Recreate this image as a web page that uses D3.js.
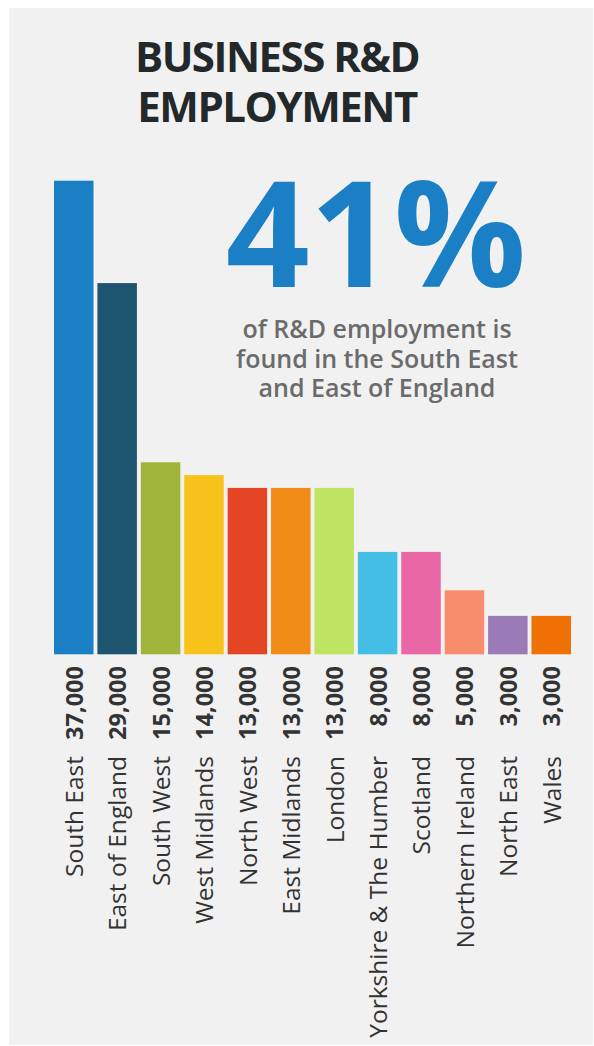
<!DOCTYPE html>
<html>
<head>
<meta charset="utf-8">
<script src="https://cdn.jsdelivr.net/npm/d3@7"></script>
<style>
  html, body { margin: 0; padding: 0; background: #ffffff; }
  svg { display: block; }
</style>
</head>
<body>
<script>
// Business R&D employment by UK region
const regions = ["South East", "East of England", "South West", "West Midlands", "North West",
  "East Midlands", "London", "Yorkshire & The Humber", "Scotland", "Northern Ireland",
  "North East", "Wales"];
const employment = [37000, 29000, 15000, 14000, 13000, 13000, 13000, 8000, 8000, 5000, 3000, 3000];
const barColors = ["#1a7fc4", "#1d5570", "#a0b43a", "#f7c31a", "#e34525", "#f08c17",
  "#bfe462", "#45bee6", "#e967a5", "#f78d6c", "#9a7ab7", "#ef7004"];
const titleLines = ["BUSINESS R&D", "EMPLOYMENT"];
const headline = "41%";
const noteLines = ["of R&D employment is", "found in the South East", "and East of England"];

const W = 594, H = 1046;
const svg = d3.select("body").append("svg").attr("width", W).attr("height", H);

// card background
svg.append("rect").attr("x", 9).attr("y", 8).attr("width", 584).attr("height", 1037)
  .attr("fill", "#f1f1f1");

const data = regions.map((r, i) => ({ region: r, value: employment[i], color: barColors[i] }));

const x = d3.scaleBand().domain(regions).range([54, 571]).paddingInner(0.09).paddingOuter(0);
const y = d3.scaleLinear().domain([0, 37000]).range([654.3, 180.7]);

// title, two lines in one text block
const title = svg.append("text")
  .attr("text-anchor", "middle")
  .attr("font-family", "'Open Sans', sans-serif").attr("font-weight", 700)
  .attr("font-size", 42).attr("letter-spacing", -1.5).attr("fill", "#23282b");
title.selectAll("tspan").data(titleLines).join("tspan")
  .attr("x", 277).attr("y", (d, i) => 71.5 + i * 50)
  .text(d => d);

// bars
svg.append("g").selectAll("rect").data(data).join("rect")
  .attr("x", d => x(d.region)).attr("width", x.bandwidth())
  .attr("y", d => y(d.value)).attr("height", d => y(0) - y(d.value))
  .attr("fill", d => d.color);

// headline figure
svg.append("text").attr("x", 376).attr("y", 286.5).attr("text-anchor", "middle")
  .attr("font-family", "'Open Sans', sans-serif").attr("font-weight", 700)
  .attr("font-size", 147).attr("fill", "#1a7fc4").text(headline);

const note = svg.append("text")
  .attr("text-anchor", "middle")
  .attr("font-family", "'Open Sans', sans-serif").attr("font-weight", 600)
  .attr("font-size", 25).attr("fill", "#6b6b6b");
note.selectAll("tspan").data(noteLines).join("tspan")
  .attr("x", 377).attr("y", (d, i) => 338 + i * 29.5)
  .text(d => d);

// rotated category labels: value near the bar, region name below
const fmt = d3.format(",");
const labels = svg.append("g").selectAll("g").data(data).join("g")
  .attr("transform", d => `translate(${x(d.region) + x.bandwidth() / 2},0) rotate(-90)`);

labels.append("text")
  .attr("x", -666).attr("y", 0).attr("dy", "0.38em")
  .attr("text-anchor", "end")
  .attr("font-family", "'Open Sans', sans-serif").attr("font-weight", 700)
  .attr("font-size", 23.5).attr("fill", "#333333")
  .text(d => fmt(d.value));

labels.append("text")
  .attr("x", -756).attr("y", 0).attr("dy", "0.38em")
  .attr("text-anchor", "end")
  .attr("font-family", "'Open Sans', sans-serif").attr("font-weight", 400)
  .attr("font-size", 24.5).attr("fill", "#333333")
  .text(d => d.region);
</script>
</body>
</html>
